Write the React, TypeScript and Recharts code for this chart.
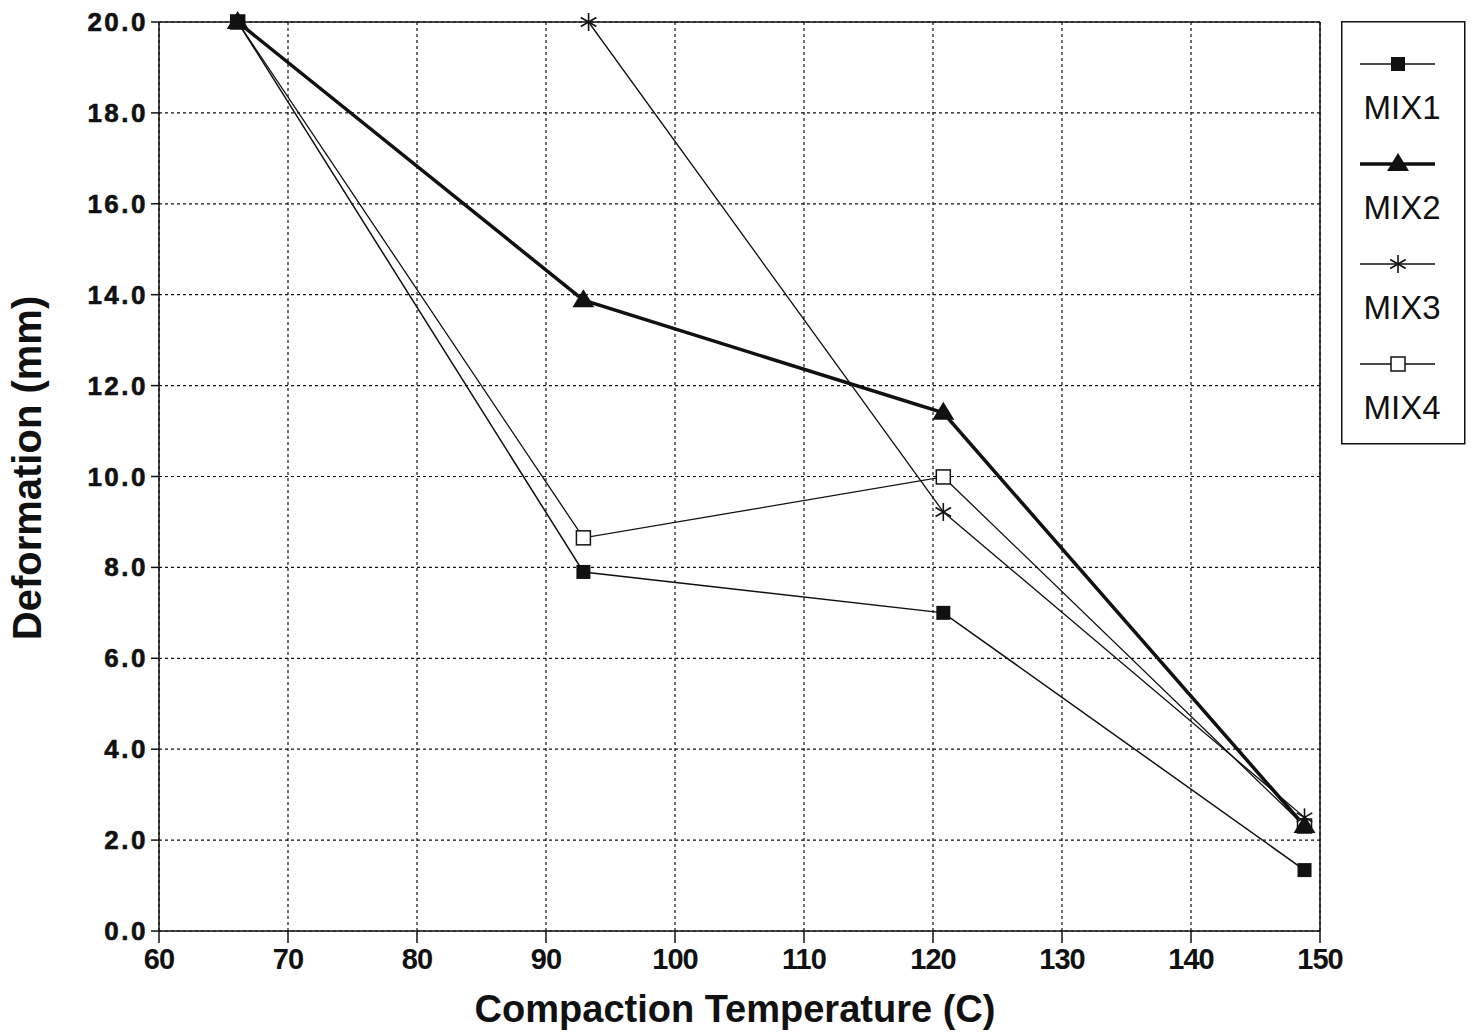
import { LineChart, Line, XAxis, YAxis, CartesianGrid, ReferenceLine } from 'recharts'

const temps = [66.1, 92.9, 120.8, 148.8]
const mix1 = [20.0, 7.9, 7.0, 1.34]
const mix2 = [20.0, 13.88, 11.4, 2.31]
const mix3Temps = [93.3, 120.8, 148.8]
const mix3 = [20.0, 9.22, 2.5]
const mix4 = [20.0, 8.65, 9.99, 2.31]
const xTicks = [60, 70, 80, 90, 100, 110, 120, 130, 140, 150]
const yTicks = [0, 2, 4, 6, 8, 10, 12, 14, 16, 18, 20]
const seriesNames = ['MIX1', 'MIX2', 'MIX3', 'MIX4']

const toRows = (xs: number[], ys: number[]) => xs.map((t, i) => ({ t, v: ys[i] }))

const font = '"Liberation Sans", Arial, Helvetica, sans-serif'

const FilledSquare = (props: any) => {
  const { cx, cy } = props
  if (cx == null || cy == null) return null
  return <rect x={cx - 7} y={cy - 7} width={14} height={14} fill="#111" />
}

const HollowSquare = (props: any) => {
  const { cx, cy } = props
  if (cx == null || cy == null) return null
  return <rect x={cx - 7} y={cy - 7} width={14} height={14} fill="#fff" stroke="#111" strokeWidth={1.5} />
}

const Triangle = (props: any) => {
  const { cx, cy } = props
  if (cx == null || cy == null) return null
  return <polygon points={`${cx},${cy - 11} ${cx + 11},${cy + 7} ${cx - 11},${cy + 7}`} fill="#111" />
}

const Star = (props: any) => {
  const { cx, cy } = props
  if (cx == null || cy == null) return null
  const r = 9
  const dx = r * Math.cos(Math.PI / 6)
  const dy = r * Math.sin(Math.PI / 6)
  return (
    <g stroke="#111" strokeWidth={1.6}>
      <line x1={cx} y1={cy - r} x2={cx} y2={cy + r} />
      <line x1={cx - dx} y1={cy - dy} x2={cx + dx} y2={cy + dy} />
      <line x1={cx - dx} y1={cy + dy} x2={cx + dx} y2={cy - dy} />
    </g>
  )
}

// tick labels in the scan are heavy and wide, so a thin stroke thickens them
const YTick = (props: any) => {
  const { x, y, payload } = props
  return (
    <text x={x - 1} y={y} dy={9} textAnchor="end" fontSize={26} fontWeight="bold" fontFamily={font} letterSpacing={2.5} fill="#111" stroke="#111" strokeWidth={0.6}>
      {payload.value.toFixed(1)}
    </text>
  )
}

const XTick = (props: any) => {
  const { x, y, payload } = props
  return (
    <text x={x} y={y} dy={24} textAnchor="middle" fontSize={29} fontWeight="bold" fontFamily={font} letterSpacing={-1} fill="#111">
      {payload.value}
    </text>
  )
}

const markers = [FilledSquare, Triangle, Star, HollowSquare]
const strokes = [1.5, 3.5, 1.3, 1.3]

const LegendBox = () => (
  <svg width={125} height={424} style={{ position: 'absolute', left: 1341, top: 21, display: 'block' }}>
    <rect x={0.75} y={0.75} width={123} height={422} fill="#fff" stroke="#111" strokeWidth={1.5} />
    {seriesNames.map((name, i) => {
      const ly = 43 + i * 100
      const M = markers[i]
      return (
        <g key={name}>
          <line x1={19} y1={ly} x2={94} y2={ly} stroke="#111" strokeWidth={strokes[i]} />
          <M cx={57} cy={ly} />
          <text x={61} y={ly + 55} textAnchor="middle" fontSize={33} fontFamily={font} fill="#111">
            {name}
          </text>
        </g>
      )
    })}
  </svg>
)

export default function App() {
  return (
    <div style={{ position: 'absolute', left: 0, top: 0, width: 1473, height: 1033, background: '#fff' }}>
      <LineChart width={1473} height={1033} margin={{ top: 22, right: 153, bottom: 0, left: 0 }}>
        <CartesianGrid stroke="#111" strokeDasharray="3 3" strokeWidth={1.2} />
        <XAxis
          dataKey="t"
          type="number"
          domain={[60, 150]}
          ticks={xTicks}
          allowDuplicatedCategory={false}
          height={102}
          tickSize={12}
          stroke="#111"
          strokeWidth={1.5}
          tick={<XTick />}
          label={{
            content: () => (
              <text x={735} y={1022} textAnchor="middle" fontSize={38} fontWeight="bold" fontFamily={font} fill="#111">
                Compaction Temperature (C)
              </text>
            ),
          }}
        />
        <YAxis
          type="number"
          domain={[0, 20]}
          ticks={yTicks}
          width={159}
          tickSize={8}
          stroke="#111"
          strokeWidth={1.5}
          tick={<YTick />}
          label={{
            content: () => (
              <text
                x={27}
                y={468}
                transform="rotate(-90 27 468)"
                textAnchor="middle"
                dominantBaseline="central"
                fontSize={40}
                fontWeight="bold"
                fontFamily={font}
                fill="#111"
              >
                Deformation (mm)
              </text>
            ),
          }}
        />
        <ReferenceLine y={20} stroke="#111" strokeWidth={1.5} />
        <ReferenceLine x={150} stroke="#111" strokeWidth={1.5} />
        <Line name="MIX4" data={toRows(temps, mix4)} dataKey="v" stroke="#111" strokeWidth={1.3} dot={<HollowSquare />} activeDot={false} isAnimationActive={false} />
        <Line name="MIX3" data={toRows(mix3Temps, mix3)} dataKey="v" stroke="#111" strokeWidth={1.3} dot={<Star />} activeDot={false} isAnimationActive={false} />
        <Line name="MIX2" data={toRows(temps, mix2)} dataKey="v" stroke="#111" strokeWidth={3.5} dot={<Triangle />} activeDot={false} isAnimationActive={false} />
        <Line name="MIX1" data={toRows(temps, mix1)} dataKey="v" stroke="#111" strokeWidth={1.5} dot={<FilledSquare />} activeDot={false} isAnimationActive={false} />
      </LineChart>
      <LegendBox />
    </div>
  )
}
